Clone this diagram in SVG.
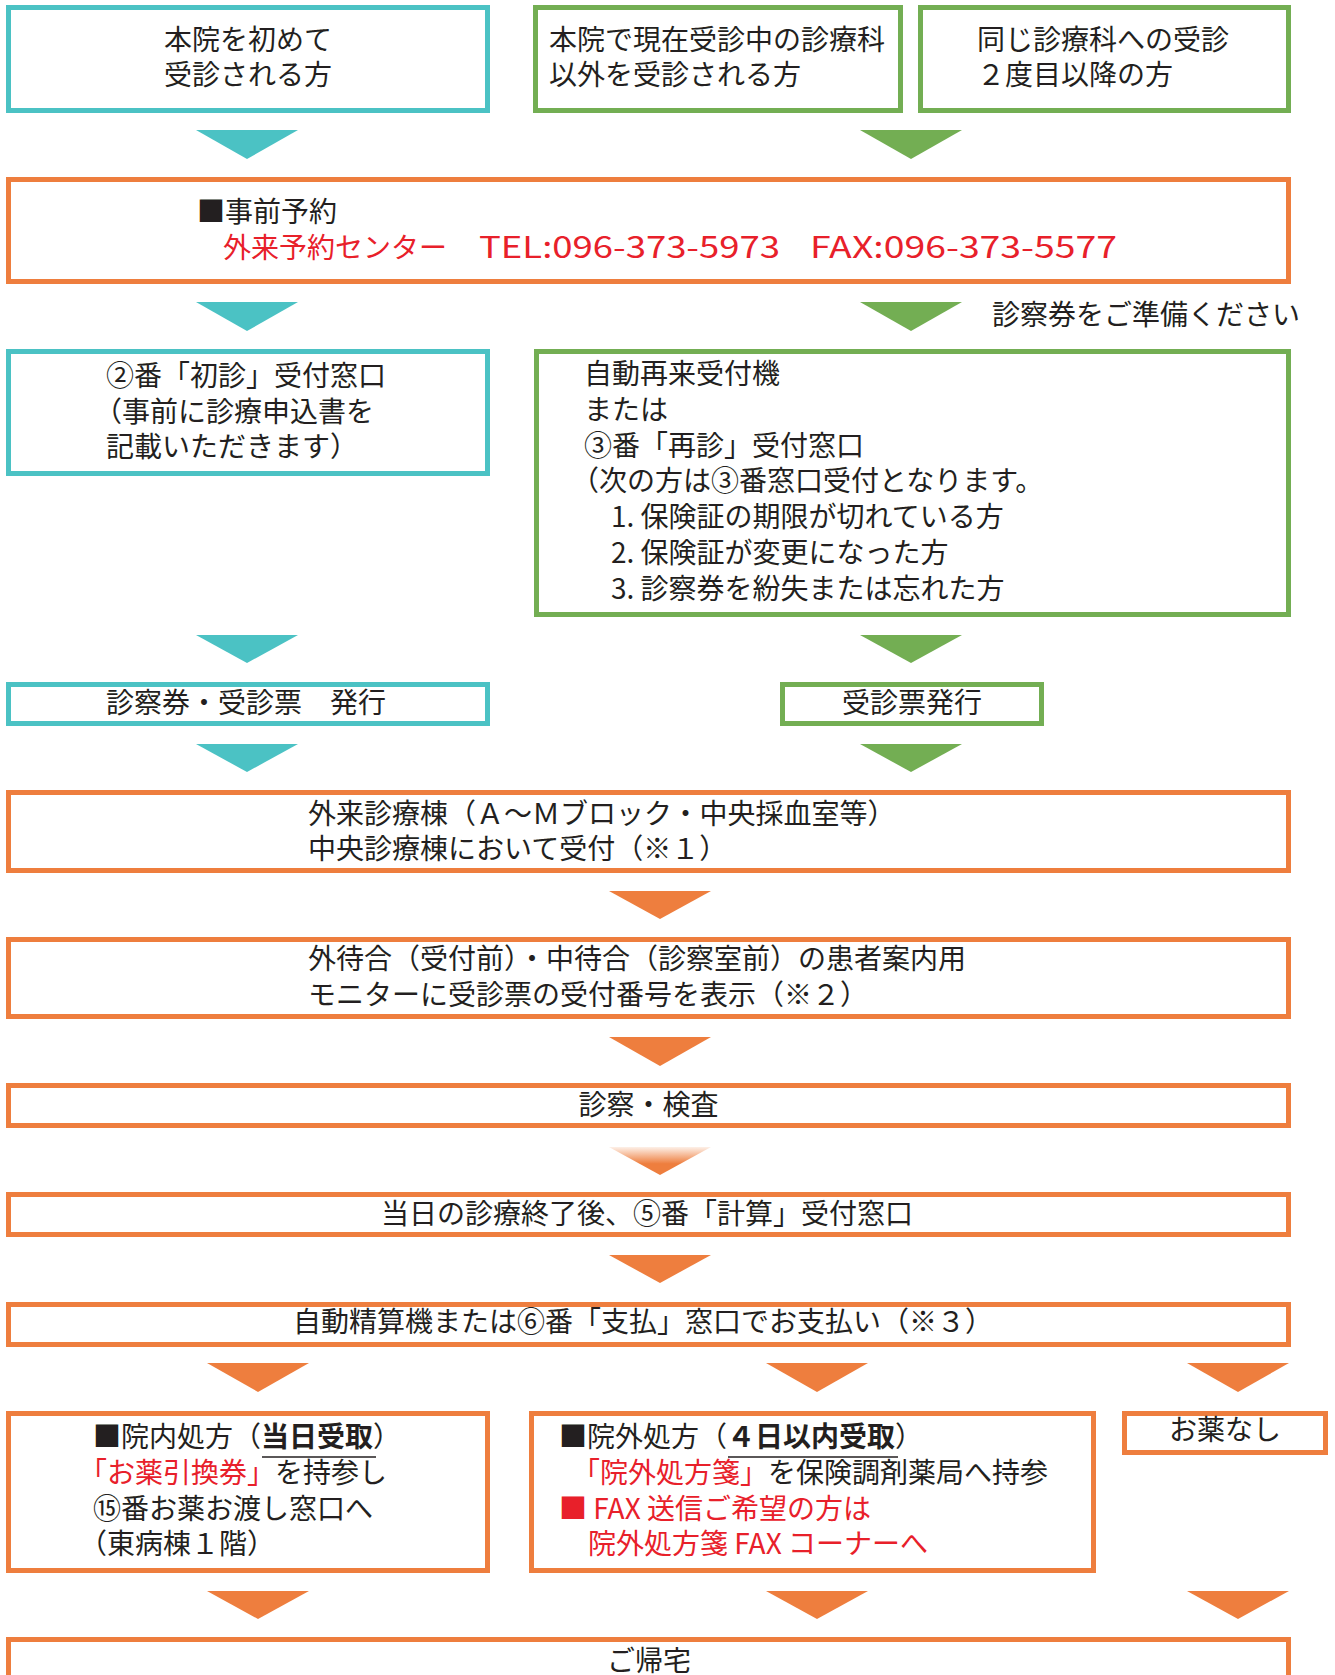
<svg xmlns="http://www.w3.org/2000/svg" width="1335" height="1675" viewBox="0 0 1335 1675">
<style>
  text { font-family: "Noto Sans CJK JP", "Noto Sans", sans-serif; font-size: 28px; fill: #231F20; }
  .red { fill: #E8202A; }
  .b { font-weight: bold; }
  .mid { text-anchor: middle; }
  .box { fill: #FFFFFF; stroke-width: 5; }
  .teal { stroke: #4BC2C4; }
  .green { stroke: #73AE53; }
  .orange { stroke: #EE7E3E; }
  .at { fill: #4BC2C4; }
  .ag { fill: #73AE53; }
  .ao { fill: #EE7E3E; }
  .ul { stroke: #231F20; stroke-width: 1.5; }
</style>
<defs>
  <linearGradient id="fade" x1="0" y1="0" x2="0" y2="1">
    <stop offset="0" stop-color="#FDF0E8"/>
    <stop offset="0.6" stop-color="#EE7E3E"/>
    <stop offset="1" stop-color="#EE7E3E"/>
  </linearGradient>
</defs>
<rect width="1335" height="1675" fill="#FFFFFF"/>

<g id="connectors">
  <polygon class="at" points="196,130 298,130 247,159"/>
  <polygon class="ag" points="860,130 962,130 911,159"/>
  <polygon class="at" points="196,302 298,302 247,331"/>
  <polygon class="ag" points="860,302 962,302 911,331"/>
  <polygon class="at" points="196,635 298,635 247,663"/>
  <polygon class="ag" points="860,635 962,635 911,663"/>
  <polygon class="at" points="196,744 298,744 247,772"/>
  <polygon class="ag" points="860,744 962,744 911,772"/>
  <polygon class="ao" points="609,891 711,891 660,919"/>
  <polygon class="ao" points="609,1037 711,1037 660,1066"/>
  <polygon fill="url(#fade)" points="609,1147 711,1147 660,1175"/>
  <polygon class="ao" points="609,1255 711,1255 660,1283"/>
  <polygon class="ao" points="207,1363 309,1363 258,1392"/>
  <polygon class="ao" points="766,1363 868,1363 817,1392"/>
  <polygon class="ao" points="1187,1363 1289,1363 1238,1392"/>
  <polygon class="ao" points="207,1591 309,1591 258,1619"/>
  <polygon class="ao" points="766,1591 868,1591 817,1619"/>
  <polygon class="ao" points="1187,1591 1289,1591 1238,1619"/>
  <text x="992" y="325">診察券をご準備ください</text>
</g>

<g id="n-first">
  <rect class="box teal" x="8.5" y="7.5" width="479" height="103"/>
  <text><tspan x="164" y="50">本院を初めて</tspan><tspan x="164" y="85">受診される方</tspan></text>
</g>
<g id="n-other">
  <rect class="box green" x="535.5" y="7.5" width="365" height="103"/>
  <text><tspan x="549" y="50">本院で現在受診中の診療科</tspan><tspan x="549" y="85">以外を受診される方</tspan></text>
</g>
<g id="n-same">
  <rect class="box green" x="920.5" y="7.5" width="368" height="103"/>
  <text><tspan x="977" y="50">同じ診療科への受診</tspan><tspan x="977" y="85">２度目以降の方</tspan></text>
</g>

<g id="n-reserve">
  <rect class="box orange" x="8.5" y="179.5" width="1280" height="102"/>
  <text x="197" y="222">■事前予約</text>
  <text class="red" x="223" y="258">外来予約センター</text>
  <text class="red" x="479" y="258" style="font-size:30px" textLength="301" lengthAdjust="spacingAndGlyphs">TEL:096-373-5973</text>
  <text class="red" x="810" y="258" style="font-size:30px" textLength="307" lengthAdjust="spacingAndGlyphs">FAX:096-373-5577</text>
</g>

<g id="n-shoshin">
  <rect class="box teal" x="8.5" y="351.5" width="479" height="122"/>
  <text><tspan x="106" y="386">②番「初診」受付窓口</tspan><tspan x="94" y="422">（事前に診療申込書を</tspan><tspan x="106" y="457">記載いただきます）</tspan></text>
</g>

<g id="n-saishin">
  <rect class="box green" x="536.5" y="351.5" width="752" height="263"/>
  <text><tspan x="584" y="384">自動再来受付機</tspan><tspan x="584" y="420">または</tspan><tspan x="584" y="455.5">③番「再診」受付窓口</tspan><tspan x="571" y="491">（次の方は③番窓口受付となります。</tspan><tspan x="611" y="527">1. 保険証の期限が切れている方</tspan><tspan x="611" y="563">2. 保険証が変更になった方</tspan><tspan x="611" y="599">3. 診察券を紛失または忘れた方</tspan></text>
</g>

<g id="n-issue1">
  <rect class="box teal" x="8.5" y="684.5" width="479" height="39"/>
  <text x="106" y="713">診察券・受診票　発行</text>
</g>
<g id="n-issue2">
  <rect class="box green" x="782.5" y="684.5" width="259" height="39"/>
  <text x="842" y="713">受診票発行</text>
</g>

<g id="n-reception">
  <rect class="box orange" x="8.5" y="792.5" width="1280" height="78"/>
  <text><tspan x="308" y="824">外来診療棟（Ａ～Ｍブロック・中央採血室等）</tspan><tspan x="308" y="859">中央診療棟において受付（※１）</tspan></text>
</g>

<g id="n-monitor">
  <rect class="box orange" x="8.5" y="939.5" width="1280" height="77"/>
  <text><tspan x="308" y="969">外待合（受付前）・中待合（診察室前）の患者案内用</tspan><tspan x="308" y="1005">モニターに受診票の受付番号を表示（※２）</tspan></text>
</g>

<g id="n-exam">
  <rect class="box orange" x="8.5" y="1085.5" width="1280" height="40"/>
  <text class="mid" x="648.5" y="1115">診察・検査</text>
</g>

<g id="n-calc">
  <rect class="box orange" x="8.5" y="1194.5" width="1280" height="40"/>
  <text class="mid" x="647" y="1224">当日の診療終了後、⑤番「計算」受付窓口</text>
</g>

<g id="n-pay">
  <rect class="box orange" x="8.5" y="1304.5" width="1280" height="40"/>
  <text class="mid" x="643" y="1332">自動精算機または⑥番「支払」窓口でお支払い（※３）</text>
</g>

<g id="n-innai">
  <rect class="box orange" x="8.5" y="1413.5" width="479" height="157"/>
  <line class="ul" x1="262" y1="1457" x2="376" y2="1457"/>
  <text><tspan x="93" y="1447">■院内処方（</tspan><tspan class="b">当日受取</tspan><tspan>）</tspan><tspan x="79" y="1483" class="red">「お薬引換券」</tspan><tspan>を持参し</tspan><tspan x="93" y="1519">⑮番お薬お渡し窓口へ</tspan><tspan x="79" y="1554">（東病棟１階）</tspan></text>
</g>

<g id="n-ingai">
  <rect class="box orange" x="531.5" y="1413.5" width="562" height="157"/>
  <line class="ul" x1="728" y1="1457" x2="898" y2="1457"/>
  <text><tspan x="559" y="1447">■院外処方（</tspan><tspan class="b">４日以内受取</tspan><tspan>）</tspan><tspan x="572" y="1483" class="red">「院外処方箋」</tspan><tspan>を保険調剤薬局へ持参</tspan><tspan x="559" y="1519" class="red">■ FAX 送信ご希望の方は</tspan><tspan x="588" y="1554" class="red">院外処方箋 FAX コーナーへ</tspan></text>
</g>

<g id="n-nomed">
  <rect class="box orange" x="1124.5" y="1413.5" width="201" height="39"/>
  <text class="mid" x="1225" y="1440">お薬なし</text>
</g>

<g id="n-home">
  <rect class="box orange" x="8.5" y="1639.5" width="1280" height="80"/>
  <text class="mid" x="649" y="1671">ご帰宅</text>
</g>
</svg>
